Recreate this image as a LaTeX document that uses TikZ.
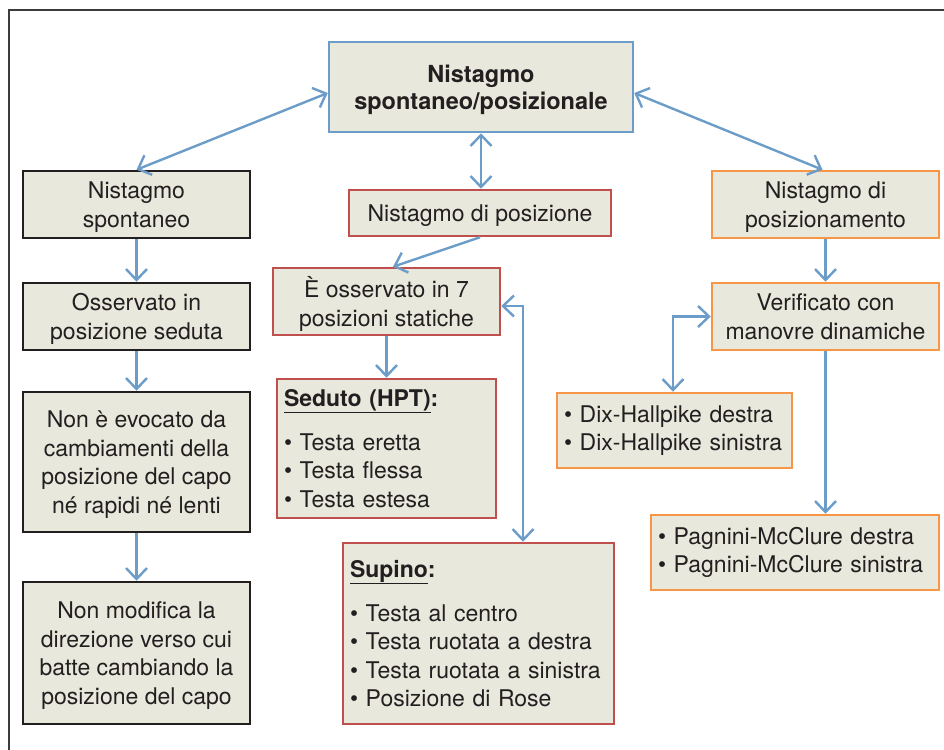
\documentclass[tikz,border=0pt]{standalone}
\usepackage{fontspec}
\setmainfont{TeX Gyre Heros}
\usetikzlibrary{arrows.meta}

\definecolor{boxfill}{RGB}{232,232,220}
\definecolor{linkblue}{RGB}{108,156,200}
\definecolor{edgered}{RGB}{192,80,77}
\definecolor{edgeorange}{RGB}{247,150,70}
\definecolor{edgeblack}{RGB}{35,31,32}
\definecolor{inkcol}{RGB}{35,31,32}
\definecolor{framecol}{RGB}{60,60,60}

\begin{document}
\begin{tikzpicture}[
  x=1pt, y=-1pt,
  txt/.style={font=\fontsize{23}{28.5}\selectfont, text=inkcol},
  box/.style={txt, draw, fill=boxfill, line width=2.5pt, inner sep=0pt},
  centred/.style={box, align=center, text depth=0pt},
  listbox/.style={box, align=left, inner xsep=7pt, inner ysep=0pt},
  blackbox/.style={centred, draw=edgeblack},
  redbox/.style={centred, draw=edgered},
  orangebox/.style={centred, draw=edgeorange},
  bluebox/.style={centred, draw=linkblue},
  redlist/.style={listbox, draw=edgered},
  orangelist/.style={listbox, draw=edgeorange},
  link/.style={draw=linkblue, line width=2.4pt,
    -{Straight Barb[length=11pt,width=21pt,line width=2.4pt]}},
  biarrow/.style={link,
    {Straight Barb[length=11pt,width=21pt,line width=2.4pt]}-{Straight Barb[length=11pt,width=21pt,line width=2.4pt]}}
]
\useasboundingbox (0,0) rectangle (944,749);
\begin{scope}
  \clip (0,0) rectangle (944,749);
  \draw[framecol, line width=1.3pt] (9,10) rectangle (980,790);
\end{scope}

% top node
\node[bluebox, minimum width=304pt, minimum height=90pt,
  font=\fontsize{23.5}{27}\selectfont\bfseries] (top) at (481,87)
  {Nistagmo\\spontaneo/posizionale};

% left column
\node[blackbox, minimum width=227pt, minimum height=67pt] (l1) at (136.5,204.5)
  {Nistagmo\\spontaneo};
\node[blackbox, minimum width=227pt, minimum height=67pt] (l2) at (136.5,316.5)
  {Osservato in\\posizione seduta};
\node[blackbox, minimum width=227pt, minimum height=140pt] (l3) at (136.5,462)
  {Non è evocato da\\cambiamenti della\\posizione del capo\\né rapidi né lenti};
\node[blackbox, minimum width=227pt, minimum height=142pt] (l4) at (136.5,653)
  {Non modifica la\\direzione verso cui\\batte cambiando la\\posizione del capo};

% middle column
\node[redbox, minimum width=262pt, minimum height=46pt] (m1) at (480,213)
  {Nistagmo di posizione};
\node[redbox, minimum width=227pt, minimum height=67pt] (m2) at (386.5,301.5)
  {È osservato in 7\\posizioni statiche};
\node[redlist, text width=205pt, minimum height=139pt] (seduto) at (386.5,448.5)
  {\textbf{\underline{Seduto (HPT)}:}\\[15.5pt]
   \textbullet\ Testa eretta\\
   \textbullet\ Testa flessa\\
   \textbullet\ Testa estesa};
\node[redlist, text width=257pt, minimum height=181pt] (supino) at (478.5,633.5)
  {\textbf{\underline{Supino}:}\\[15.5pt]
   \textbullet\ Testa al centro\\
   \textbullet\ Testa ruotata a destra\\
   \textbullet\ Testa ruotata a sinistra\\
   \textbullet\ Posizione di Rose};

% right column
\node[orangebox, minimum width=227pt, minimum height=67pt] (r1) at (825.5,204.5)
  {Nistagmo di\\posizionamento};
\node[orangebox, minimum width=227pt, minimum height=67pt] (r2) at (825.5,316.5)
  {Verificato con\\manovre dinamiche};
\node[orangelist, text width=221pt, minimum height=75pt] (dix) at (674.5,430.5)
  {\textbullet\ Dix-Hallpike destra\\
   \textbullet\ Dix-Hallpike sinistra};
\node[orangelist, text width=274pt, minimum height=75pt] (pagnini) at (795,552.5)
  {\textbullet\ Pagnini-McClure destra\\
   \textbullet\ Pagnini-McClure sinistra};

% connectors
\draw[biarrow] ([yshift=-6pt]top.west) -- (l1.north);
\draw[biarrow] ([yshift=-6pt]top.east) -- ([xshift=-3pt]r1.north);
\draw[biarrow] (top.south) -- (top.south |- m1.north);

\draw[link] (l1.south) -- (l2.north);
\draw[link] (l2.south) -- (l3.north);
\draw[link] (l3.south) -- (l4.north);

\draw[link] (m1.south) -- ([xshift=6.5pt]m2.north);
\draw[link] (m2.south) -- (m2.south |- seduto.north);
\draw[biarrow] ([yshift=-4.5pt]m2.east) -| ([xshift=44.5pt]supino.north);

\draw[link] (r1.south) -- (r2.north);
\draw[biarrow] (r2.west) -| ([xshift=-1.5pt]dix.north);
\draw[link] (r2.south) -- (r2.south |- pagnini.north);
\end{tikzpicture}
\end{document}
